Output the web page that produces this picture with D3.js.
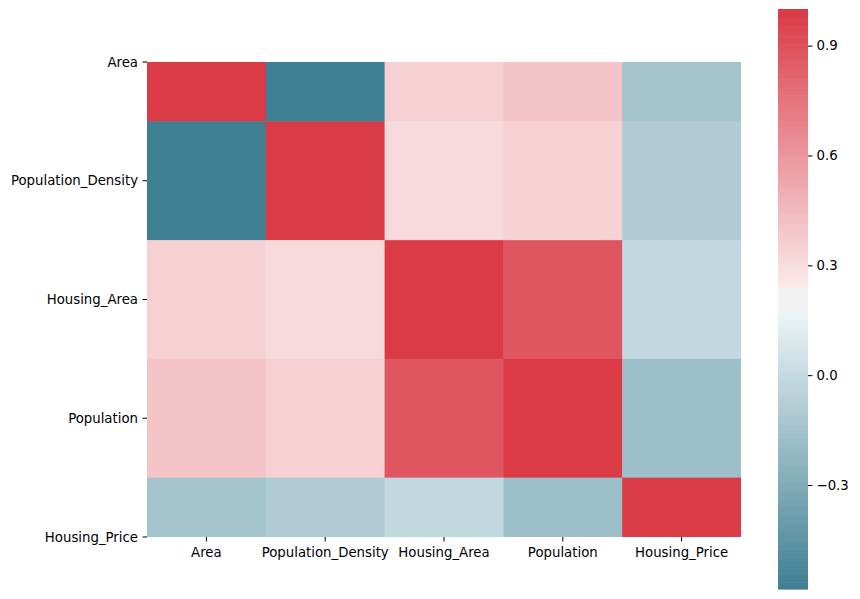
<!DOCTYPE html>
<html><head><meta charset="utf-8">
<script src="https://cdn.jsdelivr.net/npm/d3@7"></script>
<style>html,body{margin:0;padding:0;background:#fff}svg{display:block;font-family:"DejaVu Sans",sans-serif}</style>
</head><body><svg id="chart" width="860" height="599"></svg>
<script>
const labels = ["Area","Population_Density","Housing_Area","Population","Housing_Price"];
const rowArea        = [1.00, -0.584, 0.35, 0.40, -0.145];
const rowPopDensity  = [-0.584, 1.00, 0.31, 0.35, -0.09];
const rowHousingArea = [0.35, 0.31, 1.00, 0.88, -0.01];
const rowPopulation  = [0.40, 0.35, 0.88, 1.00, -0.17];
const rowHousingPrice= [-0.145, -0.09, -0.01, -0.17, 1.00];
const matrix = [rowArea,rowPopDensity,rowHousingArea,rowPopulation,rowHousingPrice];
const cbarTicks = [-0.3, 0.0, 0.3, 0.6, 0.9];

// --- seaborn husl conversion ---
const M = [[3.2406,-1.5372,-0.4986],[-0.9689,1.8758,0.0415],[0.0557,-0.2040,1.0570]];
const refU=0.19784, refV=0.46834, labE=0.008856, labK=903.3;
function maxChroma(L,H){
  const h=H*Math.PI/180, sinH=Math.sin(h), cosH=Math.cos(h);
  const sub1=Math.pow(L+16,3)/1560896, sub2=sub1>0.008856?sub1:L/903.3;
  let res=Infinity;
  for(const [m1,m2,m3] of M){
    const top=(0.99915*m1+1.05122*m2+1.14460*m3)*sub2;
    const rb=0.86330*m3-0.17266*m2, lb=0.12949*m3-0.38848*m1;
    const bottom=(rb*sinH+lb*cosH)*sub2;
    for(const t of [0,1]){
      const C=L*(top-1.05122*t)/(bottom+0.17266*sinH*t);
      if(C>0&&C<res)res=C;
    }
  }
  return res;
}
function huslToRgb(H,S,L){
  const C=maxChroma(L,H)/100*S, h=H*Math.PI/180;
  const U=Math.cos(h)*C, V=Math.sin(h)*C;
  const t=(L+16)/116, varY=Math.pow(t,3)>labE?Math.pow(t,3):(116*t-16)/labK;
  const varU=U/(13*L)+refU, varV=V/(13*L)+refV;
  const Y=varY, X=-(9*Y*varU)/((varU-4)*varV-varU*varV);
  const Z=(9*Y-15*varV*Y-varV*X)/(3*varV);
  return M.map(r=>{let c=r[0]*X+r[1]*Y+r[2]*Z; c=c<=0.0031308?12.92*c:1.055*Math.pow(c,1/2.4)-0.055; return Math.max(0,Math.min(1,c));});
}
function toD3(c){return d3.rgb(c[0]*255,c[1]*255,c[2]*255);}
function lighten(c){const h=d3.hsl(c); h.l=0.95; return d3.rgb(h);}
const negDark=toD3(huslToRgb(220,75,50)), posDark=toD3(huslToRgb(10,75,50));
const negLight=lighten(negDark), posLight=lighten(posDark), mid=d3.rgb(242.25,242.25,242.25);
const stops=[[0,negDark],[122/255,negLight],[123/255,mid],[132/255,mid],[133/255,posLight],[1,posDark]];
function cmap(t){
  t=Math.max(0,Math.min(1,t));
  const i=Math.min(255,Math.floor(t*256)), p=i/255;
  for(let k=1;k<stops.length;k++){
    if(p<=stops[k][0]+1e-9){
      const [p0,c0]=stops[k-1],[p1,c1]=stops[k];
      return d3.interpolateRgb(c0,c1)(p1===p0?0:(p-p0)/(p1-p0));
    }
  }
  return posDark.toString();
}
const all=matrix.flat(), vmin=d3.min(all), vmax=d3.max(all);
const norm=v=>(v-vmin)/(vmax-vmin);

const svg=d3.select("#chart");
const L=147,R=741,T=62,B=537;
const n=labels.length;
const x=d3.scaleLinear().domain([0,n]).range([L,R]);
// y view spans from centre of first row to centre of last row (top/bottom rows half-cut)
const y=d3.scaleLinear().domain([0.5,n-0.5]).range([T,B]);
svg.append("clipPath").attr("id","plotclip").append("rect").attr("x",L).attr("y",T).attr("width",R-L).attr("height",B-T);
const g=svg.append("g").attr("clip-path","url(#plotclip)");
matrix.forEach((row,i)=>row.forEach((v,j)=>{
  g.append("rect").attr("x",x(j)).attr("y",y(i))
   .attr("width",x(j+1)-x(j)+0.5).attr("height",y(i+1)-y(i)+0.5)
   .attr("fill",cmap(norm(v)));
}));
const fs=13.3;
// x axis (ticks at centers)
const xa=svg.append("g");
labels.forEach((l,j)=>{
  const cx=x(j+0.5);
  xa.append("line").attr("x1",cx).attr("x2",cx).attr("y1",B).attr("y2",B+4.5).attr("stroke","#000").attr("stroke-width",1);
  xa.append("text").attr("x",cx).attr("y",B+20).attr("text-anchor","middle").attr("font-size",fs).attr("fill","#000").text(l);
});
// y axis (ticks at row centres)
const ya=svg.append("g");
labels.forEach((l,i)=>{
  const cy=y(i+0.5);
  ya.append("line").attr("x1",L-4.5).attr("x2",L).attr("y1",cy).attr("y2",cy).attr("stroke","#000").attr("stroke-width",1);
  ya.append("text").attr("x",L-9).attr("y",cy).attr("dy","0.35em").attr("text-anchor","end").attr("font-size",fs).attr("fill","#000").text(l);
});
// colorbar
const cbX=778,cbW=30,cbT=9,cbB=589;
const cs=d3.scaleLinear().domain([vmin,vmax]).range([cbB,cbT]);
const nSeg=256;
for(let k=0;k<nSeg;k++){
  const v0=vmin+(vmax-vmin)*k/nSeg, v1=vmin+(vmax-vmin)*(k+1)/nSeg;
  svg.append("rect").attr("x",cbX).attr("width",cbW).attr("y",cs(v1)).attr("height",cs(v0)-cs(v1)+0.6)
    .attr("fill",cmap((k+0.5)/nSeg));
}
const ca=svg.append("g").attr("transform",`translate(${cbX+cbW},0)`)
  .call(d3.axisRight(cs).tickValues(cbarTicks).tickFormat(d3.format(".1f")).tickSize(4.5).tickPadding(4));
ca.select(".domain").remove();
ca.selectAll("text").attr("font-size",fs).attr("font-family","DejaVu Sans").attr("fill","#000");
ca.selectAll("line").attr("stroke","#000");
</script></body></html>
